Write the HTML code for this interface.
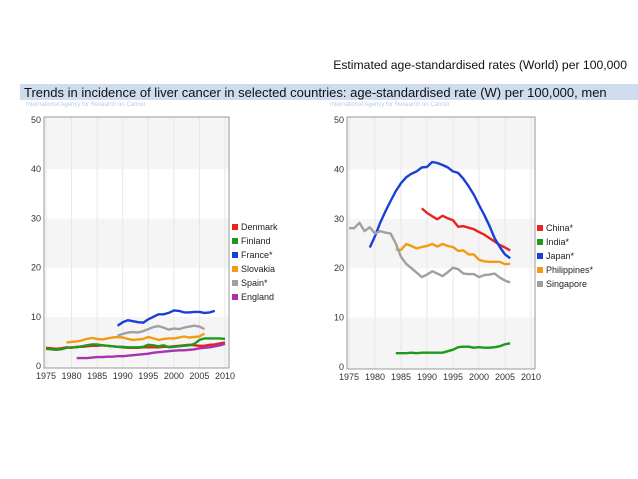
<!DOCTYPE html>
<html><head><meta charset="utf-8"><style>
body{margin:0;background:#fff;width:638px;height:479px;overflow:hidden;font-family:"Liberation Sans",sans-serif}
#wrap{position:relative;width:638px;height:479px}
</style></head><body><div id="wrap">
<div style="position:absolute;right:11px;top:58px;font-size:12.2px;color:#111">Estimated age-standardised rates (World) per 100,000</div>
<div style="position:absolute;left:20px;top:84px;width:618px;height:16px;background:#cfdcee"></div>
<div style="position:absolute;left:24px;top:85px;font-size:13px;color:#111;white-space:nowrap">Trends in incidence of liver cancer in selected countries: age-standardised rate (W) per 100,000, men</div>
<div style="position:absolute;left:26px;top:102px;font-size:6px;color:#b8cbe4">International Agency for Research on Cancer</div>
<div style="position:absolute;left:330px;top:102px;font-size:6px;color:#b8cbe4">International Agency for Research on Cancer</div>
<svg id="svg" width="638" height="479" style="position:absolute;left:0;top:0"></svg>
</div>
<script>
const yearsTicks=[1975,1980,1985,1990,1995,2000,2005,2010];
const yTicks=[0,10,20,30,40,50];
// Left chart data
const denmarkStart=1975;
const denmark=[3.7,3.6,3.5,3.6,3.8,3.7,3.9,3.9,4.0,4.1,4.1,4.2,4.1,4.0,3.9,3.8,3.7,3.7,3.7,3.8,3.8,3.8,3.8,3.9,3.9,4.0,4.1,4.2,4.3,4.2,4.1,4.1,4.3,4.4,4.6,4.8];
const finlandStart=1975;
const finland=[3.5,3.4,3.3,3.4,3.7,3.8,3.8,4.0,4.2,4.4,4.4,4.2,4.1,4.0,3.9,3.9,3.8,3.8,3.8,3.9,4.3,4.2,4.0,4.2,3.8,3.9,4.0,4.1,4.2,4.5,5.3,5.6,5.6,5.6,5.6,5.5];
const franceStart=1989;
const france=[8.2,8.9,9.3,9.1,8.9,8.8,9.5,10.0,10.5,10.5,10.8,11.3,11.2,10.9,10.9,11.0,11.0,10.8,10.9,11.2];
const slovakiaStart=1979;
const slovakia=[4.8,4.9,5.0,5.2,5.5,5.7,5.5,5.4,5.6,5.8,5.9,5.8,5.5,5.3,5.4,5.5,5.9,5.6,5.3,5.5,5.6,5.6,5.8,6.0,5.8,5.9,6.0,6.6];
const spainStart=1989;
const spain=[6.2,6.5,6.8,6.9,6.8,7.1,7.5,7.9,8.1,7.8,7.4,7.6,7.5,7.8,8.0,8.2,8.0,7.5];
const englandStart=1981;
const england=[1.6,1.6,1.6,1.7,1.8,1.8,1.9,1.9,2.0,2.0,2.1,2.2,2.3,2.4,2.5,2.7,2.8,2.9,3.0,3.1,3.2,3.2,3.3,3.4,3.6,3.7,3.8,4.0,4.2,4.5];
// Right chart data
const chinaStart=1989;
const china=[32.1,31.2,30.5,29.9,30.6,30.1,29.7,28.4,28.5,28.2,27.9,27.3,26.8,26.1,25.4,24.7,24.2,23.6];
const indiaStart=1984;
const india=[2.8,2.8,2.8,2.9,2.8,2.9,2.9,2.9,2.9,2.9,3.2,3.5,4.0,4.1,4.1,3.9,4.0,3.9,3.9,4.0,4.2,4.6,4.8];
const japanStart=1979;
const japan=[24.2,26.5,29.2,31.5,33.6,35.6,37.2,38.4,39.1,39.6,40.4,40.5,41.5,41.3,40.9,40.4,39.6,39.3,38.1,36.6,34.9,32.8,30.8,28.6,26.1,24.3,22.8,22.0];
const philippinesStart=1984;
const philippines=[23.8,23.7,24.9,24.5,24.0,24.3,24.5,24.9,24.4,24.9,24.5,24.3,23.5,23.6,22.8,22.8,21.7,21.4,21.3,21.3,21.3,20.8,20.9];
const singaporeStart=1975;
const singapore=[28.1,28.1,29.2,27.5,28.3,27.0,27.5,27.2,27.0,25.0,22.3,20.9,20.0,19.1,18.2,18.7,19.4,18.9,18.4,19.2,20.1,19.8,18.9,18.8,18.8,18.2,18.6,18.7,18.9,18.1,17.5,17.1];

const NS='http://www.w3.org/2000/svg';
const svg=document.getElementById('svg');
function mk(tag,attrs,parent){const e=document.createElementNS(NS,tag);for(const k in attrs)e.setAttribute(k,attrs[k]);(parent||svg).appendChild(e);return e;}

function chart(cfg,prefix){
  const g=mk('g',{});
  
  
  const xs=y=>cfg.x0+(y-1975)/35*(cfg.x1-cfg.x0);
  const ys=v=>cfg.y0-v/50*(cfg.y0-cfg.y1);
  const L=cfg.x0-2,R=cfg.x1+4,T=ys(50)-3,B=ys(0)+2;
  for(let i=0;i<5;i++){
    const fill=(i%2===0)?'#f5f5f5':'#ffffff';
    const top=i===4?T:ys(i*10+10),bot=i===0?B:ys(i*10);
    const r=mk('rect',{x:L,y:top,width:R-L,height:bot-top,fill:fill},g);
    
    
  }
  yearsTicks.forEach(t=>{
    const l=mk('line',{x1:xs(t),x2:xs(t),y1:T,y2:B,stroke:'#e6e6e6','stroke-width':1},g);
    
    
    const tx=mk('text',{x:xs(t),y:B+11,'font-size':9,'text-anchor':'middle',fill:'#333'},g);
    tx.textContent=t;
    
    
  });
  yTicks.forEach(t=>{
    const tx=mk('text',{x:L-3,y:ys(t)+3,'font-size':9,'text-anchor':'end',fill:'#333'},g);
    tx.textContent=t;
    
    
  });
  const fr=mk('rect',{x:L,y:T,width:R-L,height:B-T,fill:'none',stroke:'#999','stroke-width':1},g);
  
  
  cfg.series.forEach((s,i)=>{
    const pts=s.data.map((v,j)=>xs(s.start+j).toFixed(1)+','+ys(v).toFixed(1)).join(' ');
    const p=mk('polyline',{points:pts,fill:'none',stroke:s.color,'stroke-width':2.4,'stroke-linejoin':'round'},g);
    
    
    const ly=cfg.legY+i*14;
    const sq=mk('rect',{x:cfg.legX,y:ly-6,width:6,height:6,fill:s.color},g);
    
    
    const lt=mk('text',{x:cfg.legX+9,y:ly,'font-size':9,fill:'#222'},g);
    lt.textContent=s.name;
    
    
  });
}
chart({x0:46,x1:225,y0:366,y1:120,legX:232,legY:230,series:[
  {name:'Denmark',color:'#e8231a',data:denmark,start:denmarkStart},
  {name:'Finland',color:'#1c9a1c',data:finland,start:finlandStart},
  {name:'France*',color:'#1a3fd9',data:france,start:franceStart},
  {name:'Slovakia',color:'#f39a12',data:slovakia,start:slovakiaStart},
  {name:'Spain*',color:'#a0a0a0',data:spain,start:spainStart},
  {name:'England',color:'#a633b0',data:england,start:englandStart}]},'left');
chart({x0:349,x1:531,y0:367,y1:120,legX:537,legY:231,series:[
  {name:'China*',color:'#e8231a',data:china,start:chinaStart},
  {name:'India*',color:'#1c9a1c',data:india,start:indiaStart},
  {name:'Japan*',color:'#1a3fd9',data:japan,start:japanStart},
  {name:'Philippines*',color:'#f39a12',data:philippines,start:philippinesStart},
  {name:'Singapore',color:'#a0a0a0',data:singapore,start:singaporeStart}]},'right');
</script></body></html>
